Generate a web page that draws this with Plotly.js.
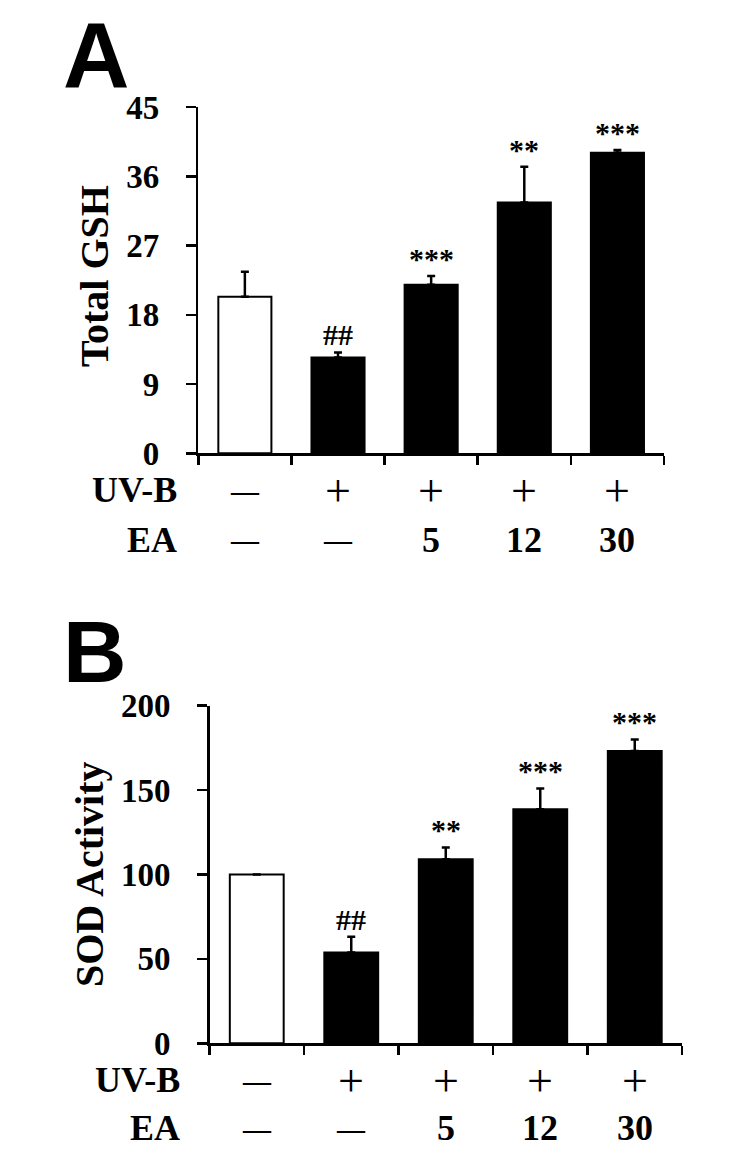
<!DOCTYPE html>
<html>
<head>
<meta charset="utf-8">
<script src="https://cdn.plot.ly/plotly-3.0.1.min.js"></script>
<style>html,body{margin:0;padding:0;background:#fff}#chart{width:753px;height:1155px}</style>
</head>
<body>
<div id="chart"></div>
<script>
// ---- data ----
var groups = [0, 1, 2, 3, 4];
var uvbLabels = ["\u2014", "+", "+", "+", "+"];
var eaLabels = ["\u2014", "\u2014", "5", "12", "30"];
var gshValues = [20.35, 12.45, 21.9, 32.6, 39.05];
var gshErrors = [3.25, 0.65, 1.15, 4.65, 0.35];
var gshMarks = ["", "##", "***", "**", "***"];
var sodValues = [100, 53.8, 108.9, 138.6, 173.1];
var sodErrors = [null, 9.3, 7.1, 12.3, 6.8];
var sodMarks = ["", "##", "**", "***", "***"];
var barColors = ["#ffffff", "#000000", "#000000", "#000000", "#000000"];
var gshTicks = [0, 9, 18, 27, 36, 45];
var sodTicks = [0, 50, 100, 150, 200];

var W = 753, H = 1155;
function px(x) { return x / W; }
function py(y) { return 1 - y / H; }

var serif = "Liberation Serif, Times New Roman, serif";

function barTrace(vals, errs, xa, ya) {
  return {
    type: "bar", x: groups, y: vals, xaxis: xa, yaxis: ya, width: 0.57,
    marker: { color: barColors, line: { color: "#000", width: 2 } },
    error_y: { type: "data", symmetric: false, array: errs, arrayminus: groups.map(function(){return 0;}),
               color: "#000", thickness: 2.5, width: 4 },
    hoverinfo: "none", showlegend: false
  };
}

var data = [barTrace(gshValues, gshErrors, "x", "y"), barTrace(sodValues, sodErrors, "x2", "y2")];

function xAxis(domain, anchor) {
  return {
    domain: domain, anchor: anchor, range: [-0.5, 4.5], showgrid: false, zeroline: false,
    showline: true, linecolor: "#000", linewidth: 2.5, mirror: false,
    tickmode: "array", tickvals: [-0.5, 0.5, 1.5, 2.5, 3.5, 4.5], ticktext: ["", "", "", "", "", ""],
    ticks: "outside", ticklen: 9, tickwidth: 2.5, tickcolor: "#000", fixedrange: true
  };
}
function yAxis(domain, anchor, range, ticks, fs) {
  return {
    domain: domain, anchor: anchor, range: range, showgrid: false, zeroline: false,
    showline: true, linecolor: "#000", linewidth: 2.5,
    tickmode: "array", tickvals: ticks, ticktext: ticks.map(String),
    ticks: "outside", ticklen: 10, tickwidth: 2.5, tickcolor: "#000",
    ticklabelstandoff: 20,
    tickfont: { family: serif, size: fs, color: "#000", weight: "bold" }, fixedrange: true
  };
}

var annotations = [];
function addText(x, y, xref, yref, text, size, opts) {
  var a = {
    x: x, y: y, xref: xref, yref: yref, text: text, showarrow: false,
    font: { family: serif, size: size, color: "#000", weight: "bold" },
    xanchor: "center", yanchor: "middle", borderpad: 0
  };
  for (var k in (opts || {})) a[k] = opts[k];
  annotations.push(a);
}

// Panel letters
var sans = "Liberation Sans, Arial, sans-serif";
addText(px(96), py(55), "paper", "paper", "A", 90, { font: { family: sans, size: 92, color: "#000", weight: "bold" } });
addText(px(95), py(651), "paper", "paper", "B", 88, { font: { family: sans, size: 88, color: "#000", weight: "bold" } });

// Y titles
addText(px(95), py(276), "paper", "paper", "Total GSH", 40, { textangle: -90 });
addText(px(89), py(874), "paper", "paper", "SOD Activity", 40, { textangle: -90 });

// Category rows
function rows(xref, yUV, yEA, xLabelRight) {
  addText(px(xLabelRight), py(yUV), "paper", "paper", "UV-B", 36, { xanchor: "right" });
  addText(px(xLabelRight), py(yEA), "paper", "paper", "EA", 36, { xanchor: "right" });
  groups.forEach(function (g, i) {
    var u = uvbLabels[i];
    if (u === "+") addText(g, py(yUV), xref, "paper", u, 46, { font: { family: serif, size: 46, color: "#000" } });
    else addText(g, py(yUV), xref, "paper", u, 28);
    var e = eaLabels[i];
    if (e === "\u2014") addText(g, py(yEA), xref, "paper", e, 28);
    else addText(g, py(yEA), xref, "paper", e, 36);
  });
}
rows("x", 490, 540, 178);
rows("x2", 1080, 1128, 181);

// significance marks
function marks(xref, yref, vals, errs, mk) {
  groups.forEach(function (g, i) {
    if (!mk[i]) return;
    addText(g, vals[i] + (errs[i] || 0), xref, yref, mk[i], 30, { yanchor: "bottom", yshift: 0 });
  });
}
marks("x", "y", gshValues, gshErrors, gshMarks);
marks("x2", "y2", sodValues, sodErrors, sodMarks);

var layout = {
  width: W, height: H, margin: { l: 0, r: 0, t: 0, b: 0 },
  paper_bgcolor: "#fff", plot_bgcolor: "#fff", bargap: 0.43,
  xaxis: xAxis([px(198.3), px(664)], "y"),
  yaxis: yAxis([py(453.3), py(107)], "x", [0, 45], gshTicks, 33),
  xaxis2: xAxis([px(209.5), px(682)], "y2"),
  yaxis2: yAxis([py(1043.3), py(705.5)], "x2", [0, 200], sodTicks, 33),
  annotations: annotations, showlegend: false
};

Plotly.newPlot("chart", data, layout, { staticPlot: true, displayModeBar: false });
</script>
</body>
</html>
